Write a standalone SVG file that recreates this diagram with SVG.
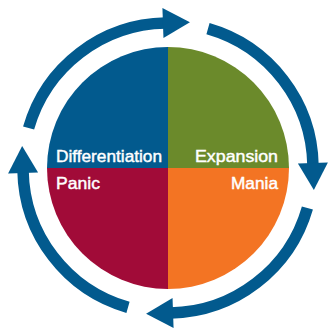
<svg xmlns="http://www.w3.org/2000/svg" width="328" height="328" viewBox="0 0 328 328">
  <style>
    .lbl { font-family: "Liberation Sans", Arial, sans-serif; font-size: 17px; fill: #ffffff; stroke: #ffffff; stroke-width: 0.45px; }
    .shaft { fill: none; stroke: #025a8e; stroke-width: 11.5; stroke-linecap: butt; }
    .head { fill: #025a8e; }
  </style>
  <defs>
    <g id="arrow">
      <path class="shaft" d="M 28.6 128.0 A 145 145 0 0 1 165.47 23.02"/>
      <polygon class="head" points="162.42,8.10 189.92,22.15 163.46,38.08"/>
    </g>
  </defs>
  <rect width="328" height="328" fill="#ffffff"/>
  <g id="connectors">
    <use href="#arrow"/>
    <use href="#arrow" transform="rotate(90 168 168)"/>
    <use href="#arrow" transform="rotate(180 168 168)"/>
    <use href="#arrow" transform="rotate(270 168 168)"/>
  </g>
  <g id="differentiation">
    <path d="M168 168 L47 168 A121 121 0 0 1 168 47 Z" fill="#025a8e"/>
    <text class="lbl" x="56" y="162" textLength="106" lengthAdjust="spacingAndGlyphs">Differentiation</text>
  </g>
  <g id="expansion">
    <path d="M168 168 L168 47 A121 121 0 0 1 289 168 Z" fill="#6b8a2b"/>
    <text class="lbl" x="195" y="162" textLength="83" lengthAdjust="spacingAndGlyphs">Expansion</text>
  </g>
  <g id="mania">
    <path d="M168 168 L289 168 A121 121 0 0 1 168 289 Z" fill="#f37423"/>
    <text class="lbl" x="231" y="189" textLength="47" lengthAdjust="spacingAndGlyphs">Mania</text>
  </g>
  <g id="panic">
    <path d="M168 168 L168 289 A121 121 0 0 1 47 168 Z" fill="#a10b38"/>
    <text class="lbl" x="56" y="189" textLength="44" lengthAdjust="spacingAndGlyphs">Panic</text>
  </g>
</svg>
